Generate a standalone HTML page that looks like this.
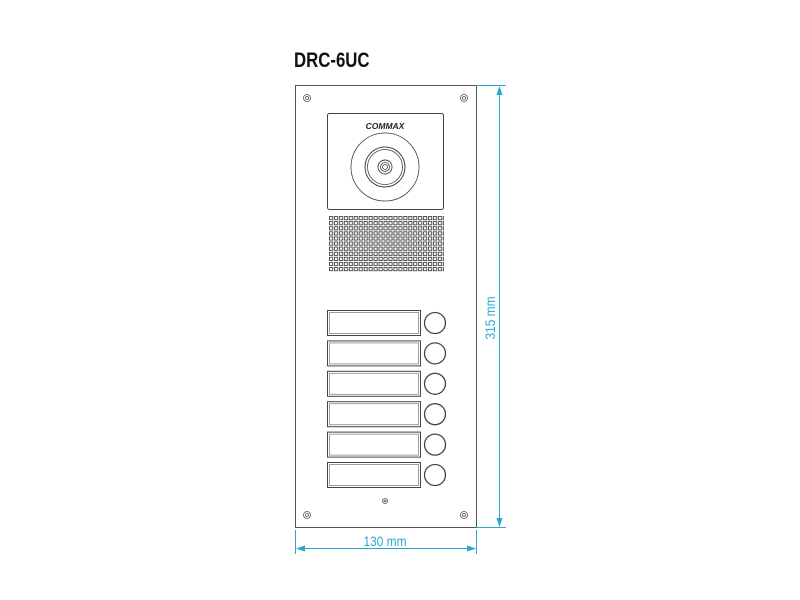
<!DOCTYPE html>
<html><head><meta charset="utf-8"><style>
html,body{margin:0;padding:0;background:#fff;}
svg{display:block}
</style></head><body>
<svg width="800" height="600" viewBox="0 0 800 600" xmlns="http://www.w3.org/2000/svg">
<defs>
<pattern id="g" x="329" y="216" width="4.95" height="5.1" patternUnits="userSpaceOnUse">
<rect x="0.5" y="0.5" width="3.2" height="3.2" fill="none" stroke="#444" stroke-width="0.9"/>
</pattern>
</defs>
<text transform="translate(294,67) scale(0.8,1)" font-family="Liberation Sans, sans-serif" font-weight="bold" font-size="21" fill="#111">DRC-6UC</text>
<rect x="295.5" y="85.5" width="181" height="442" fill="#fff" stroke="#555" stroke-width="1"/>
<g fill="none" stroke="#555" stroke-width="0.8">
<circle cx="307" cy="98" r="3.5"/><circle cx="307" cy="98" r="1.5"/>
<circle cx="464" cy="98" r="3.5"/><circle cx="464" cy="98" r="1.5"/>
<circle cx="307" cy="515" r="3.5"/><circle cx="307" cy="515" r="1.5"/>
<circle cx="464" cy="515" r="3.5"/><circle cx="464" cy="515" r="1.5"/>
<circle cx="385" cy="501" r="2.5"/><circle cx="385" cy="501" r="1"/>
</g>
<rect x="327.5" y="113.5" width="116" height="96" rx="2" fill="#fff" stroke="#444" stroke-width="1"/>
<text x="385" y="129" text-anchor="middle" font-family="Liberation Sans, sans-serif" font-weight="bold" font-style="italic" font-size="8.5" fill="#222">COMMAX</text>
<g fill="none" stroke="#444">
<circle cx="385" cy="167" r="34" stroke-width="0.8"/>
<circle cx="385" cy="167" r="20" stroke-width="1"/>
<circle cx="385" cy="167" r="17.5" stroke-width="0.8"/>
<circle cx="385" cy="167" r="7" stroke-width="0.9"/>
<circle cx="385" cy="167" r="4.5" stroke-width="0.8"/>
<circle cx="385" cy="167" r="2.5" stroke-width="0.8"/>
</g>
<rect x="329" y="216" width="115" height="56" fill="url(#g)"/>
<g fill="none" stroke="#444">
<g id="row">
<rect x="327.5" y="310.5" width="93" height="25" stroke-width="1"/>
<rect x="329.5" y="312.5" width="89" height="21" stroke="#888" stroke-width="0.8"/>
<circle cx="435" cy="323" r="10.5" stroke-width="1.3"/>
</g>
<use href="#row" y="30.4"/>
<use href="#row" y="60.8"/>
<use href="#row" y="91.2"/>
<use href="#row" y="121.6"/>
<use href="#row" y="152"/>
</g>
<g stroke="#2aa7d0" fill="#2aa7d0" stroke-width="1">
<line x1="476" y1="85.5" x2="506" y2="85.5"/>
<line x1="476" y1="527.5" x2="506" y2="527.5"/>
<line x1="499.5" y1="87" x2="499.5" y2="526"/>
<polygon points="499.5,86 496.5,95 502.5,95" stroke="none"/>
<polygon points="499.5,527 496.5,518 502.5,518" stroke="none"/>
<line x1="295.5" y1="530" x2="295.5" y2="554"/>
<line x1="476.5" y1="530" x2="476.5" y2="554"/>
<line x1="297" y1="548.5" x2="475" y2="548.5"/>
<polygon points="296,548.5 305,545.5 305,551.5" stroke="none"/>
<polygon points="476,548.5 467,545.5 467,551.5" stroke="none"/>
</g>
<text transform="translate(385,546) scale(0.85,1)" text-anchor="middle" font-family="Liberation Sans, sans-serif" font-size="14" fill="#2aa7d0">130 mm</text>
<text transform="translate(495,318) rotate(-90) scale(0.85,1)" text-anchor="middle" font-family="Liberation Sans, sans-serif" font-size="14" fill="#2aa7d0">315 mm</text>
</svg>
</body></html>
